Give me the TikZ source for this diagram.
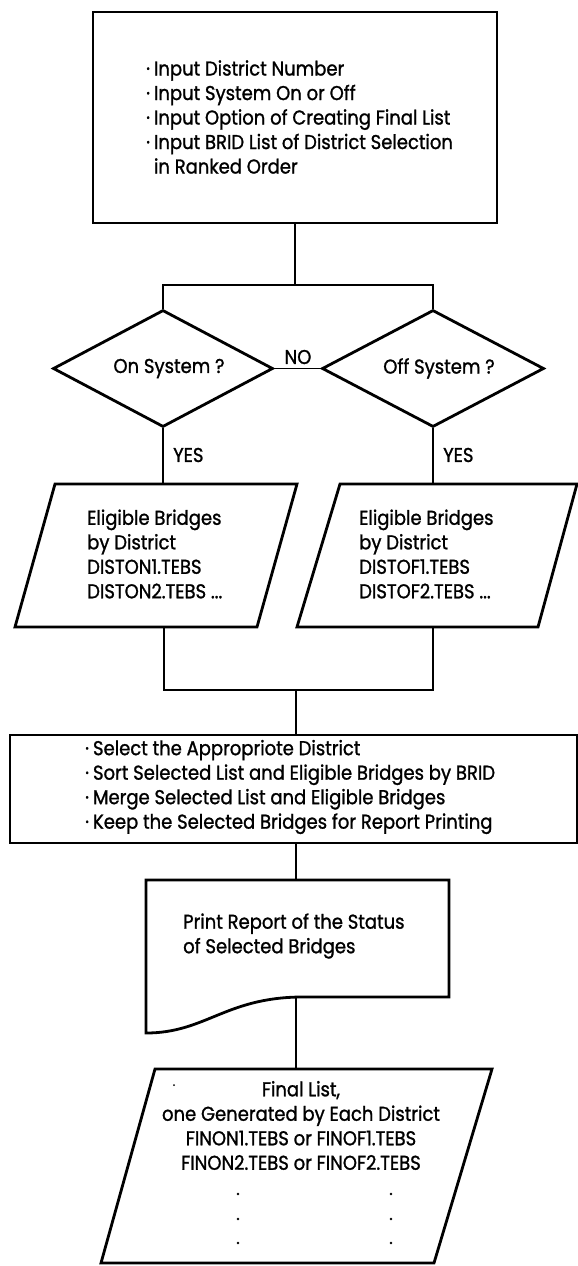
\documentclass[tikz,border=0pt]{standalone}
\usepackage{fontspec}
\setmainfont{Poppins}[FakeStretch=0.9, FakeBold=1.2]
\usetikzlibrary{shapes.geometric}

% bullet mark with a small gap before the item text
\newcommand\itm{·\hspace{4pt}}

\tikzset{
  outline/.style={draw=black, line width=2.8pt, line join=miter},
  link/.style={draw=black, line width=1.6pt},
  txt/.style={inner sep=0pt, align=left, font=\fontsize{20}{24.5}\selectfont},
  ctxt/.style={inner sep=0pt, align=center, font=\fontsize{20}{24.5}\selectfont},
  dot/.style={circle, fill=black, inner sep=0pt, minimum size=2.8pt},
}

\begin{document}
\begin{tikzpicture}[x=1pt,y=-1pt]
\useasboundingbox (0,0) rectangle (578,1266);

% input block
\node[outline, minimum width=404pt, minimum height=211pt, inner sep=0pt] (input) at (295,117.5) {};
\node[txt, anchor=west] (inputtxt) at (146,117) {%
\itm Input District Number\\
\itm Input System On or Off\\
\itm Input Option of Creating Final List\\
\itm Input BRID List of District Selection\\
\hphantom{\itm}in Ranked Order};

% decisions
\node[outline, diamond, aspect=1.88, minimum width=220pt, minimum height=117pt, inner sep=0pt,
      font=\fontsize{20}{22}\selectfont] (onsys) at (163,368.5) {\hspace*{12pt}On System ?};
\node[outline, diamond, aspect=1.88, minimum width=222pt, minimum height=117pt, inner sep=0pt,
      font=\fontsize{20}{22}\selectfont] (offsys) at (433,368.5) {\hspace*{12pt}Off System ?};

\coordinate (fork) at (295,285);
\draw[link] (input.south) -- (fork);
\draw[link] (onsys.north) |- (fork) -| (offsys.north);
\draw[link] (onsys.east) -- (offsys.west);
\node[ctxt] (no) at (298,357) {NO};

% eligible bridge files
\coordinate (onlist-n) at (163,484);
\coordinate (onlist-s) at (164,627);
\draw[outline] (55,484) -- (297,484) -- (257,627) -- (15,627) -- cycle;
\node[txt, anchor=west] (ontxt) at (87,554) {Eligible Bridges\\by District\\DISTON1.TEBS\\DISTON2.TEBS ...};

\coordinate (offlist-n) at (433,484);
\coordinate (offlist-s) at (433,627);
\draw[outline] (340,484) -- (577,484) -- (538,627) -- (297,627) -- cycle;
\node[txt, anchor=west] (offtxt) at (359,554) {Eligible Bridges\\by District\\DISTOF1.TEBS\\DISTOF2.TEBS ...};

\draw[link] (onsys.south) -- (onlist-n);
\draw[link] (offsys.south) -- (offlist-n);
\node[txt, anchor=west] (yes1) at (173,455) {YES};
\node[txt, anchor=west] (yes2) at (443,455) {YES};

% merge step
\node[outline, minimum width=567pt, minimum height=108pt, inner sep=0pt] (merge) at (293.5,789) {};
\node[txt, anchor=west] (mergetxt) at (85,787) {%
\itm Select the Appropriote District\\
\itm Sort Selected List and Eligible Bridges by BRID\\
\itm Merge Selected List and Eligible Bridges\\
\itm Keep the Selected Bridges for Report Printing};

\coordinate (join) at (296,690);
\draw[link] (onlist-s) |- (join) -| (offlist-s);
\draw[link] (join) -- (join |- merge.north);

% printed report
\coordinate (rep-n) at (296,880);
\coordinate (rep-s) at (296,997);
\draw[outline] (146,880) -- (449,880) -- (449,997) -- (300,997)
  .. controls (225,998) and (205,1033) .. (146,1033) -- cycle;
\node[txt, anchor=west] (reptxt) at (183,936) {Print Report of the Status\\of Selected Bridges};
\draw[link] (rep-n |- merge.south) -- (rep-n);

% final list
\coordinate (fin-n) at (296,1069);
\draw[outline] (155,1069) -- (492,1069) -- (434,1263) -- (101,1263) -- cycle;
\draw[link] (rep-s) -- (fin-n);
\node[ctxt] (fintxt) at (301,1125.5) {Final List,\\one Generated by Each District\\FINON1.TEBS or FINOF1.TEBS\\FINON2.TEBS or FINOF2.TEBS};
\node[dot, minimum size=2pt] (speck) at (174,1085) {};
\foreach \yy [count=\k] in {1194,1219,1243} {
  \node[dot] (dl\k) at (238,\yy) {};
  \node[dot] (dr\k) at (391,\yy) {};
}
\end{tikzpicture}
\end{document}
